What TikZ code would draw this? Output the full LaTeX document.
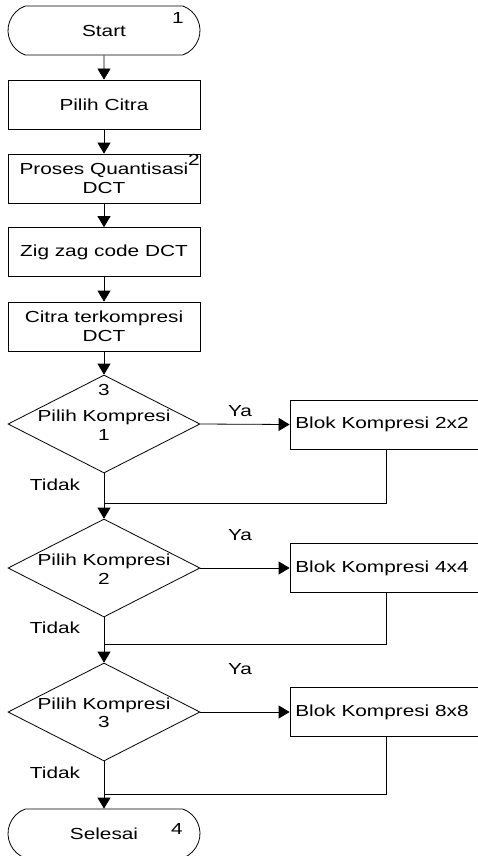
\documentclass[tikz,border=0pt]{standalone}
\usepackage{fontspec}
\setmainfont{Liberation Sans}[FakeStretch=1.3]
\usetikzlibrary{shapes.geometric,shapes.misc,arrows.meta}
\begin{document}
\begin{tikzpicture}[x=1pt,y=-1pt,
  font=\fontsize{16}{18.5}\selectfont,
  box/.style={draw,line width=0.8pt,minimum width=192pt,minimum height=49pt,inner sep=0pt,align=center},
  term/.style={draw,line width=0.8pt,rounded rectangle,rounded rectangle arc length=140,minimum width=192pt,minimum height=49pt,inner sep=0pt},
  dec/.style={draw,line width=0.8pt,diamond,minimum width=192pt,minimum height=98pt,inner sep=0pt},
  arr/.style={line width=0.8pt,-{Triangle[width=13pt,length=11pt]}},
  ln/.style={line width=0.8pt},
  lbl/.style={inner sep=0pt,align=center}]
\useasboundingbox (0,0) rectangle (478,856);
% main column
\node[term] (start) at (104,30.5) {Start};
\node[box] (citra) at (104,104.5) {Pilih Citra};
\node[box] (quant) at (104,178.5) {Proses Quantisasi\\DCT};
\node[box] (zig) at (104,252) {Zig zag code DCT};
\node[box] (komp) at (104,326.5) {Citra terkompresi\\DCT};
\node[dec] (d1) at (104,424) {};
\node[dec] (d2) at (104,568) {};
\node[dec] (d3) at (104,712) {};
\node[term] (end) at (104,833.5) {Selesai};
% diamond texts
\node[lbl] (t1) at (104,425) {Pilih Kompresi\\1};
\node[lbl] (t2) at (104,569) {Pilih Kompresi\\2};
\node[lbl] (t3) at (104,713) {Pilih Kompresi\\3};
% right boxes
\node[box] (b1) at (386,424.5) {\hspace*{-8pt}Blok Kompresi 2x2};
\node[box] (b2) at (386,568) {\hspace*{-8pt}Blok Kompresi 4x4};
\node[box] (b3) at (386,712) {\hspace*{-8pt}Blok Kompresi 8x8};
% numbers
\node[lbl] (n1) at (178,18) {1};
\node[lbl] (n2) at (194,160) {2};
\node[lbl] (n3) at (104,390) {3};
\node[lbl] (n4) at (177,829) {4};
% junctions
\coordinate (j1) at (104,503);
\coordinate (j2) at (104,644);
\coordinate (j3) at (104,794);
% arrows
\draw[arr] (start) -- (citra);
\draw[arr] (citra) -- (quant);
\draw[arr] (quant) -- (zig);
\draw[arr] (zig) -- (komp);
\draw[arr] (komp) -- (d1.north);
\draw[arr] (d1.east) -- (b1.west);
\draw[arr] (d2.east) -- (b2.west);
\draw[arr] (d3.east) -- (b3.west);
\draw[arr] (d1.south) -- (d2.north);
\draw[arr] (d2.south) -- (d3.north);
\draw[arr] (d3.south) -- (end.north);
\draw[ln] (b1.south) |- (j1);
\draw[ln] (b2.south) |- (j2);
\draw[ln] (b3.south) |- (j3);
% labels
\node[lbl] (ya1) at (240,411) {Ya};
\node[lbl] (ya2) at (240,535) {Ya};
\node[lbl] (ya3) at (240,669) {Ya};
\node[lbl] (td1) at (55,485) {Tidak};
\node[lbl] (td2) at (55,628) {Tidak};
\node[lbl] (td3) at (55,773) {Tidak};
\end{tikzpicture}
\end{document}
